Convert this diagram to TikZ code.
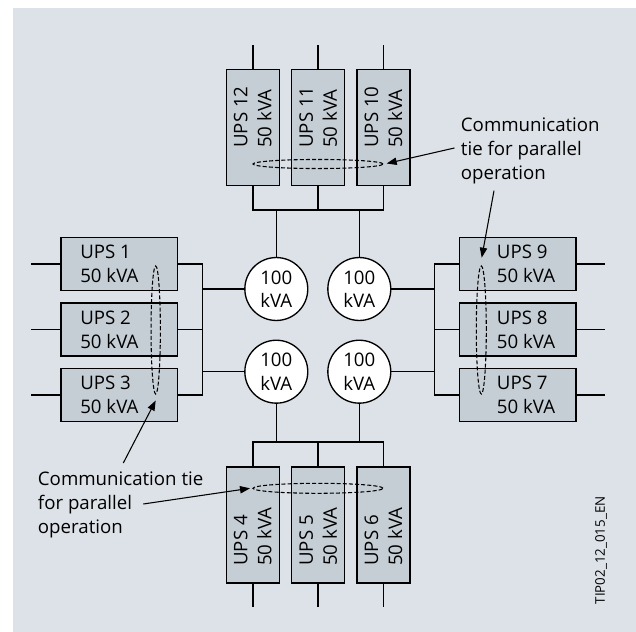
\documentclass[tikz,border=0pt]{standalone}
\usepackage{fontspec}
\setmainfont{Open Sans}
\usetikzlibrary{arrows.meta,shapes.geometric}
\definecolor{panel}{RGB}{221,226,232}
\definecolor{unitfill}{RGB}{197,205,213}

\begin{document}
\begin{tikzpicture}[x=0.75pt,y=-0.75pt,
  font=\fontsize{14pt}{18pt}\selectfont,
  wire/.style={line width=1.1pt},
  unith/.style={draw, line width=1pt, fill=unitfill, minimum width=87.4pt, minimum height=39.8pt, inner sep=0pt},
  unitv/.style={draw, line width=1pt, fill=unitfill, minimum width=39.8pt, minimum height=87pt, inner sep=0pt},
  lbl/.style={inner sep=0pt, align=left},
  bus/.style={draw, line width=1pt, fill=white, circle, minimum size=47.2pt, inner sep=0pt, align=center,
              font=\fontsize{14pt}{17.5pt}\selectfont},
  tie/.style={draw, line width=0.8pt, dash pattern=on 3pt off 1.6pt, ellipse, inner sep=0pt},
  callout/.style={line width=0.8pt, -{Stealth[length=7.5pt, width=5.5pt, inset=0pt]}},
]
% page and panel
\fill[white] (0,0) rectangle (636,632);
\fill[panel] (12.7,8.3) rectangle (636,632);
\useasboundingbox (0,0) rectangle (636,632);

% bus ties (circles)
\node[bus] (c1) at (276.3,289) {100\\kVA};
\node[bus] (c2) at (359.3,289) {100\\kVA};
\node[bus] (c3) at (276.3,371.7) {100\\kVA};
\node[bus] (c4) at (359.3,371.7) {100\\kVA};

% top group
\node[unitv] (u12) at (252.8,127.3) {};
\node[unitv] (u11) at (318.2,127.3) {};
\node[unitv] (u10) at (383.5,127.3) {};
\node[lbl, rotate=90, anchor=west] (t12) at (252.8,148) {UPS 12\\50 kVA};
\node[lbl, rotate=90, anchor=west] (t11) at (318.2,148) {UPS 11\\50 kVA};
\node[lbl, rotate=90, anchor=west] (t10) at (383.5,148) {UPS 10\\50 kVA};
\coordinate (tb) at (0,210);
\foreach \u in {u12,u11,u10} \draw[wire] (\u.north) -- ++(0,-23.3);
\draw[wire] (u12.south) |- (u10.south |- tb) -- (u10.south);
\draw[wire] (u11.south) -- (u11.south |- tb);
\draw[wire] (c1.north) -- (c1.north |- tb);
\draw[wire] (c2.north) -- (c2.north |- tb);

% bottom group
\node[unitv] (u4) at (252.8,525) {};
\node[unitv] (u5) at (318.2,525) {};
\node[unitv] (u6) at (383.5,525) {};
\node[lbl, rotate=90, anchor=west] (t4) at (252.8,566) {UPS 4\\50 kVA};
\node[lbl, rotate=90, anchor=west] (t5) at (318.2,566) {UPS 5\\50 kVA};
\node[lbl, rotate=90, anchor=west] (t6) at (383.5,566) {UPS 6\\50 kVA};
\coordinate (bb) at (0,442);
\foreach \u in {u4,u5,u6} \draw[wire] (\u.south) -- ++(0,23.7);
\draw[wire] (u4.north) |- (u6.north |- bb) -- (u6.north);
\draw[wire] (u5.north) -- (u5.north |- bb);
\draw[wire] (c3.south) -- (c3.south |- bb);
\draw[wire] (c4.south) -- (c4.south |- bb);

% left group
\node[unith] (u1) at (119.2,264.2) {};
\node[unith] (u2) at (119.2,329.5) {};
\node[unith] (u3) at (119.2,394.8) {};
\node[lbl, anchor=west] (t1) at (80,264.2) {UPS 1\\50 kVA};
\node[lbl, anchor=west] (t2) at (80,329.5) {UPS 2\\50 kVA};
\node[lbl, anchor=west] (t3) at (80,394.8) {UPS 3\\50 kVA};
\coordinate (lb) at (202.3,0);
\foreach \u in {u1,u2,u3} \draw[wire] (\u.west) -- ++(-28.9,0);
\draw[wire] (u1.east) -| (lb |- u3.east) -- (u3.east);
\draw[wire] (u2.east) -- (u2.east -| lb);
\draw[wire] (c1.west) -- (c1.west -| lb);
\draw[wire] (c3.west) -- (c3.west -| lb);

% right group
\node[unith] (u9) at (517.7,264.2) {};
\node[unith] (u8) at (517.7,329.5) {};
\node[unith] (u7) at (517.7,394.8) {};
\node[lbl, anchor=west] (t9) at (496.7,264.2) {UPS 9\\50 kVA};
\node[lbl, anchor=west] (t8) at (496.7,329.5) {UPS 8\\50 kVA};
\node[lbl, anchor=west] (t7) at (496.7,394.8) {UPS 7\\50 kVA};
\coordinate (rb) at (434.3,0);
\foreach \u in {u9,u8,u7} \draw[wire] (\u.east) -- ++(28.7,0);
\draw[wire] (u9.west) -| (rb |- u7.west) -- (u7.west);
\draw[wire] (u8.west) -- (u8.west -| rb);
\draw[wire] (c2.east) -- (c2.east -| rb);
\draw[wire] (c4.east) -- (c4.east -| rb);

% communication ties
\node[tie, minimum width=97.5pt, minimum height=6.8pt] (tieT) at (318,164) {};
\node[tie, minimum width=97.5pt, minimum height=7.5pt] (tieB) at (318,488.3) {};
\node[tie, minimum width=7pt, minimum height=96pt] (tieL) at (155.7,330) {};
\node[tie, minimum width=7.5pt, minimum height=96pt] (tieR) at (481.3,330) {};

% callout texts
\node[lbl, anchor=west] (lblTR) at (460.7,150.5) {Communication\\tie for parallel\\operation};
\node[lbl, anchor=west] (lblBL) at (37.7,505) {Communication tie\\for parallel\\operation};

\coordinate (tailT) at (454.4,148);
\coordinate (tipT) at (386.7,163.5);
\coordinate (tailR) at (494,190.7);
\coordinate (tipR) at (481.7,257.7);
\coordinate (tailL) at (123.3,463);
\coordinate (tipL) at (155.7,400.5);
\coordinate (tailB) at (143.3,504);
\coordinate (tipB) at (250,488.3);
\draw[callout] (tailT) -- (tipT);
\draw[callout] (tailR) -- (tipR);
\draw[callout] (tailL) -- (tipL);
\draw[callout] (tailB) -- (tipB);

% drawing number
\node[inner sep=0pt, rotate=90, anchor=west, font=\fontsize{10pt}{12pt}\selectfont] (docid) at (601,604.5) {TIP02\_12\_015\_EN};
\end{tikzpicture}
\end{document}
